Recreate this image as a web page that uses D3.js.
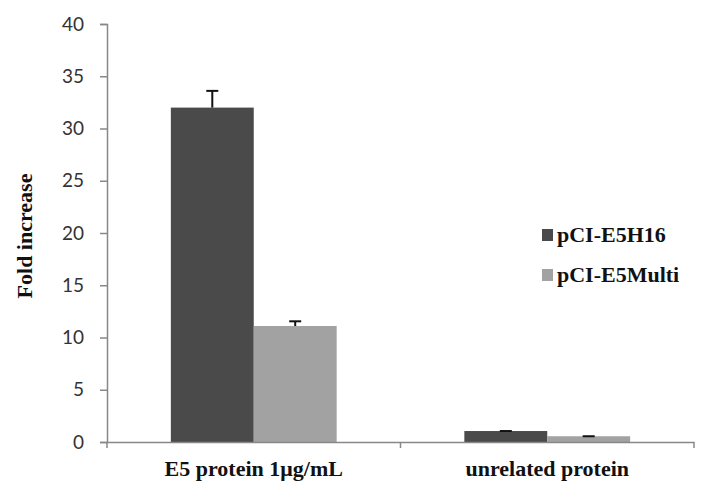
<!DOCTYPE html>
<html><head><meta charset="utf-8">
<script src="https://cdn.jsdelivr.net/npm/d3@7"></script>
<style>body{margin:0;background:#fff}</style>
</head><body>
<svg id="c" width="713" height="500"></svg>
<script>
const categories = ["E5 protein 1\u03bcg/mL", "unrelated protein"];
const seriesNames = ["pCI-E5H16", "pCI-E5Multi"];
const e5h16 = [32.0, 1.05];
const e5h16Err = [1.6, 0.0];
const e5multi = [11.1, 0.55];
const e5multiErr = [0.45, 0.0];
const yTicks = [0, 5, 10, 15, 20, 25, 30, 35, 40];
const colors = ["#4a4a4a", "#a2a2a2"];

(function () {
const svg = d3.select("#c");
const mLeft = 107, mRight = 694, mTop = 24, mBottom = 442;
const x = d3.scaleBand().domain(categories).range([mLeft, mRight]);
const xs = d3.scaleBand().domain(seriesNames).range([0, x.bandwidth()]).paddingOuter(0.77).paddingInner(0);
const y = d3.scaleLinear().domain([0, 40]).range([mBottom, mTop]);

const data = [];
categories.forEach((c, i) => {
  data.push({c, s: seriesNames[0], v: e5h16[i], e: e5h16Err[i], col: colors[0]});
  data.push({c, s: seriesNames[1], v: e5multi[i], e: e5multiErr[i], col: colors[1]});
});

svg.selectAll("rect.bar").data(data).enter().append("rect")
  .attr("x", d => x(d.c) + xs(d.s)).attr("width", xs.bandwidth())
  .attr("y", d => y(d.v)).attr("height", d => y(0) - y(d.v))
  .attr("fill", d => d.col);

const eb = svg.append("g").attr("stroke", "#111").attr("stroke-width", 2);
data.forEach(d => {
  const cx = x(d.c) + xs(d.s) + xs.bandwidth() / 2;
  eb.append("line").attr("x1", cx).attr("x2", cx).attr("y1", y(d.v)).attr("y2", y(d.v + d.e));
  eb.append("line").attr("x1", cx - 6).attr("x2", cx + 6).attr("y1", y(d.v + d.e)).attr("y2", y(d.v + d.e));
});

const ya = svg.append("g").attr("transform", `translate(${mLeft},0)`)
  .call(d3.axisLeft(y).tickValues(yTicks).tickSize(7).tickPadding(16));
ya.select(".domain").attr("stroke", "#888").attr("stroke-width", 1.5);
ya.selectAll(".tick line").attr("stroke", "#888").attr("stroke-width", 1.5);
ya.selectAll(".tick text").attr("font-family", "Lato, 'Open Sans', sans-serif").attr("font-size", 19).attr("fill", "#333");

const xa = svg.append("g").attr("transform", `translate(0,${mBottom})`)
  .call(d3.axisBottom(x).tickSize(0).tickSizeOuter(0));
xa.select(".domain").attr("stroke", "#888").attr("stroke-width", 1.5);
xa.selectAll(".tick text").attr("font-family", "'Liberation Serif', 'DejaVu Serif', serif")
  .attr("font-weight", "bold").attr("font-size", 22).attr("fill", "#111").attr("dy", 0).attr("y", 34);
const seps = [mLeft, x(categories[1]), mRight];
svg.append("g").selectAll("line").data(seps).enter().append("line")
  .attr("x1", d => d).attr("x2", d => d).attr("y1", mBottom).attr("y2", mBottom + 6)
  .attr("stroke", "#888").attr("stroke-width", 1.5);

svg.append("text").attr("transform", `translate(32,236) rotate(-90)`)
  .attr("text-anchor", "middle").attr("font-family", "'Liberation Serif', serif")
  .attr("font-weight", "bold").attr("font-size", 22).attr("fill", "#111").text("Fold increase");

const lg = svg.append("g");
seriesNames.forEach((s, i) => {
  const base = 242 + i * 40;
  lg.append("rect").attr("x", 542).attr("y", base - 13).attr("width", 11).attr("height", 12).attr("fill", colors[i]);
  lg.append("text").attr("x", 557).attr("y", base).attr("font-family", "'Liberation Serif', serif")
    .attr("font-weight", "bold").attr("font-size", 22).attr("fill", "#111").text(s);
});
})();
</script>
</body></html>
